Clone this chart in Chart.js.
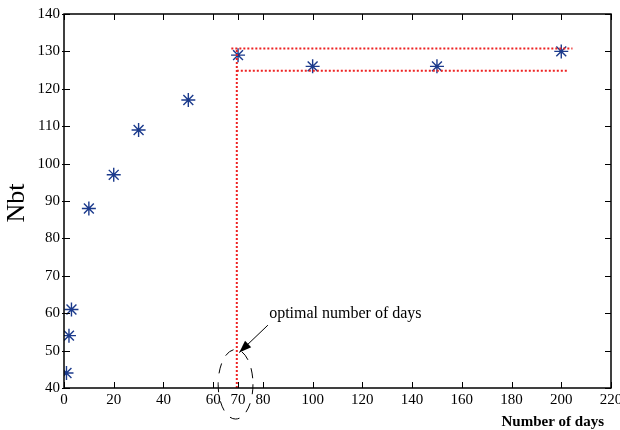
<!DOCTYPE html>
<html>
<head>
<meta charset="utf-8">
<script src="https://cdn.jsdelivr.net/npm/chart.js@4/dist/chart.umd.min.js"></script>
<style>
  html, body { margin: 0; padding: 0; background: #fff; }
  #wrap { width: 620px; height: 430px; }
</style>
</head>
<body>
<div id="wrap"><canvas id="chart" width="620" height="430"></canvas></div>
<script>
// measured points
const days = [1, 2, 3, 10, 20, 30, 50, 70, 100, 150, 200];
const nbt = [44, 54, 61, 88, 97, 109, 117, 129, 126, 126, 130];

// tick labels
const xTicks = [0, 20, 40, 60, 70, 80, 100, 120, 140, 160, 180, 200, 220];
const yTicks = [40, 50, 60, 70, 80, 90, 100, 110, 120, 130, 140];

// red dotted guide lines
const upperLine = [{ x: 67.3, y: 130.8 }, { x: 204.5, y: 130.8 }];
const lowerLine = [{ x: 69.5, y: 124.8 }, { x: 202.5, y: 124.8 }];
const optimalLine = [{ x: 69.5, y: 40 }, { x: 69.5, y: 130.8 }];

const serif = '"Liberation Serif", "DejaVu Serif", serif';

const decorations = {
    id: 'decorations',
    afterDraw(chart) {
        const ctx = chart.ctx;
        const a = chart.chartArea;
        const xs = chart.scales.x, ys = chart.scales.y;
        ctx.save();

        // box and inward ticks
        ctx.strokeStyle = '#000';
        ctx.lineWidth = 1.5;
        ctx.strokeRect(a.left, a.top, a.right - a.left, a.bottom - a.top);
        ctx.lineWidth = 1;
        ctx.beginPath();
        xTicks.forEach(v => {
            const px = Math.round(xs.getPixelForValue(v)) + 0.5;
            ctx.moveTo(px, a.bottom); ctx.lineTo(px, a.bottom - 6);
            ctx.moveTo(px, a.top); ctx.lineTo(px, a.top + 6);
        });
        yTicks.forEach(v => {
            const py = Math.round(ys.getPixelForValue(v)) + 0.5;
            ctx.moveTo(a.left - 2, py); ctx.lineTo(a.left + 6, py);
            ctx.moveTo(a.right, py); ctx.lineTo(a.right - 6, py);
        });
        ctx.stroke();

        // dashed ellipse around x = 70
        const cx = xs.getPixelForValue(69);
        const cy = ys.getPixelForValue(41);
        const rx = xs.getPixelForValue(76) - cx;
        const ry = cy - ys.getPixelForValue(50.3);
        ctx.setLineDash([10, 9]);
        ctx.lineWidth = 1;
        ctx.beginPath();
        ctx.ellipse(cx, cy, rx, ry, 0, 0, Math.PI * 2);
        ctx.stroke();
        ctx.setLineDash([]);

        // arrow
        const x1 = xs.getPixelForValue(82), y1 = ys.getPixelForValue(56.8);
        const x2 = xs.getPixelForValue(70.5), y2 = ys.getPixelForValue(49.5);
        ctx.beginPath();
        ctx.moveTo(x1, y1); ctx.lineTo(x2, y2);
        ctx.stroke();
        const ang = Math.atan2(y2 - y1, x2 - x1);
        ctx.beginPath();
        ctx.moveTo(x2, y2);
        ctx.lineTo(x2 - 13 * Math.cos(ang - 0.35), y2 - 13 * Math.sin(ang - 0.35));
        ctx.lineTo(x2 - 13 * Math.cos(ang + 0.35), y2 - 13 * Math.sin(ang + 0.35));
        ctx.closePath();
        ctx.fillStyle = '#000';
        ctx.fill();

        // texts
        ctx.fillStyle = '#000';
        ctx.font = '16px ' + serif;
        ctx.textAlign = 'left';
        ctx.textBaseline = 'middle';
        ctx.fillText('optimal number of days', xs.getPixelForValue(82.5), ys.getPixelForValue(59.8));

        ctx.font = 'bold 15px ' + serif;
        ctx.textAlign = 'right';
        ctx.fillText('Number of days', 604, 422);

        ctx.font = '26px ' + serif;
        ctx.textAlign = 'center';
        ctx.translate(17, 203);
        ctx.rotate(-Math.PI / 2);
        ctx.fillText('Nbt', 0, 0);
        ctx.restore();
    }
};

const dotted = {
    type: 'line',
    borderColor: '#ee2222',
    borderWidth: 2,
    borderDash: [2, 2],
    pointRadius: 0,
    fill: false
};

new Chart(document.getElementById('chart').getContext('2d'), {
    type: 'scatter',
    data: {
        datasets: [
            { ...dotted, label: 'upper', data: upperLine },
            { ...dotted, label: 'lower', data: lowerLine },
            { ...dotted, label: 'optimal', data: optimalLine },
            {
                label: 'Nbt',
                data: days.map((d, i) => ({ x: d, y: nbt[i] })),
                pointStyle: 'star',
                pointRadius: 7,
                borderColor: '#1b3a8c',
                backgroundColor: '#1b3a8c',
                borderWidth: 1.4
            }
        ]
    },
    options: {
        responsive: false,
        animation: false,
        layout: { padding: { top: 14, right: 9, left: 0, bottom: 0 } },
        plugins: { legend: { display: false }, tooltip: { enabled: false } },
        scales: {
            x: {
                type: 'linear',
                min: 0, max: 220,
                afterBuildTicks: s => { s.ticks = xTicks.map(v => ({ value: v })); },
                afterFit: s => { s.height = 42; s.paddingLeft = 0; s.paddingRight = 0; },
                grid: { display: false, drawTicks: false },
                border: { display: false },
                ticks: { color: '#000', font: { family: serif, size: 15 }, padding: 3, maxRotation: 0, autoSkip: false }
            },
            y: {
                min: 40, max: 140,
                afterBuildTicks: s => { s.ticks = yTicks.map(v => ({ value: v })); },
                afterFit: s => { s.width = 64; s.paddingTop = 0; s.paddingBottom = 0; },
                grid: { display: false, drawTicks: false },
                border: { display: false },
                ticks: { color: '#000', font: { family: serif, size: 15 }, padding: 4 }
            }
        }
    },
    plugins: [decorations]
});
</script>
</body>
</html>
